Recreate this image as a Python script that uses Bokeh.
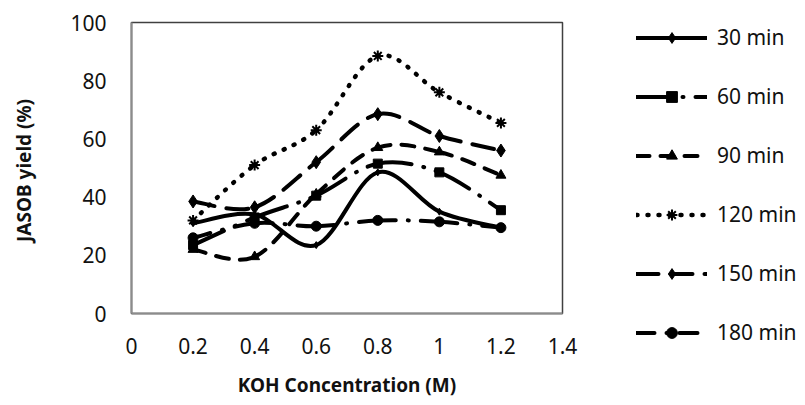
import numpy as np
from bokeh.plotting import figure
from bokeh.layouts import row, column
from bokeh.models import ColumnDataSource, Legend, LegendItem, FixedTicker, Range1d
from bokeh.embed import file_html
from bokeh.resources import INLINE

# ---- data ----
koh = [0.2, 0.4, 0.6, 0.8, 1.0, 1.2]
y30 = [31, 34, 23.5, 48.5, 35, 29.5]
y60 = [23.5, 33, 40.5, 51.5, 48.5, 35.5]
y90 = [22, 19.5, 41, 57, 55.5, 47.5]
y120 = [32, 51, 63, 88.5, 76, 65.5]
y150 = [38.5, 36.5, 52, 68.5, 61, 56]
y180 = [26, 31, 30, 32, 31.5, 29.5]
series_names = ["30 min", "60 min", "90 min", "120 min", "150 min", "180 min"]
x_ticks = [0, 0.2, 0.4, 0.6, 0.8, 1.0, 1.2, 1.4]
x_tick_labels = ["0", "0.2", "0.4", "0.6", "0.8", "1", "1.2", "1.4"]
y_ticks = [0, 20, 40, 60, 80, 100]

FONT = "Noto Sans"

p = figure(width=600, height=405, output_backend="svg", toolbar_location=None,
           x_range=Range1d(0, 1.4), y_range=Range1d(0, 100),
           min_border_left=131, min_border_right=38, min_border_top=22, min_border_bottom=92)
p.xgrid.visible = False
p.ygrid.visible = False
p.outline_line_color = "#404040"
p.outline_line_width = 1.5

for ax in (p.xaxis, p.yaxis):
    ax.axis_line_color = "#8c8c8c"
    ax.axis_line_width = 2
    ax.major_tick_line_color = None
    ax.minor_tick_line_color = None
    ax.major_label_text_font = FONT
    ax.major_label_text_font_size = "21px"
    ax.major_label_text_color = "#111111"
    ax.major_label_text_line_height = 1.0
    ax.axis_label_text_font = FONT
    ax.axis_label_text_font_style = "bold"
    ax.axis_label_text_font_size = "19px"
    ax.axis_label_text_color = "#111111"
    ax.axis_label_text_line_height = 1.0

p.xaxis.ticker = FixedTicker(ticks=x_ticks)
p.xaxis.major_label_overrides = {t: l for t, l in zip(x_ticks, x_tick_labels)}
p.xaxis.major_label_standoff = 18
p.xaxis.axis_label = "KOH Concentration (M)"
p.xaxis.axis_label_standoff = 15
p.yaxis.ticker = FixedTicker(ticks=y_ticks)
p.yaxis.major_label_standoff = 19
p.yaxis.axis_label = "JASOB  yield (%)"
p.yaxis.axis_label_standoff = 30


def smooth_source(xs, ys, t=1/6.):
    xs = np.asarray(xs, float)
    ys = np.asarray(ys, float)
    n = len(xs)
    x0, y0, x1, y1, cx0, cy0, cx1, cy1 = ([] for _ in range(8))
    for i in range(n - 1):
        im = max(i - 1, 0)
        ip2 = min(i + 2, n - 1)
        x0.append(xs[i]); y0.append(ys[i])
        x1.append(xs[i + 1]); y1.append(ys[i + 1])
        cx0.append(xs[i] + (xs[i + 1] - xs[im]) * t)
        cy0.append(ys[i] + (ys[i + 1] - ys[im]) * t)
        cx1.append(xs[i + 1] - (xs[ip2] - xs[i]) * t)
        cy1.append(ys[i + 1] - (ys[ip2] - ys[i]) * t)
    return ColumnDataSource(dict(x0=x0, y0=y0, x1=x1, y1=y1,
                                 cx0=cx0, cy0=cy0, cx1=cx1, cy1=cy1))


styles = [
    dict(ys=y30, dash="solid", width=4, marker="diamond", size=7),
    dict(ys=y60, dash="34 12 1 12", width=4, marker="square", size=9),
    dict(ys=y90, dash="13 11", width=4, marker="triangle", size=10),
    dict(ys=y120, dash="1 10", width=4.5, marker="asterisk", size=11),
    dict(ys=y150, dash="22 12", width=4, marker="diamond", size=13),
    dict(ys=y180, dash="18 12 1 12", width=4, marker="circle", size=10),
]

# legend panel (separate figure, no axes)
lg = figure(width=205, height=405, output_backend="svg", toolbar_location=None,
            x_range=Range1d(0, 1), y_range=Range1d(0, 1),
            min_border_left=36, min_border_right=0, min_border_top=23, min_border_bottom=0)
lg.axis.visible = False
lg.grid.visible = False
lg.outline_line_color = None

items = []
for name, st in zip(series_names, styles):
    src = smooth_source(koh, st["ys"])
    p.bezier(x0="x0", y0="y0", x1="x1", y1="y1", cx0="cx0", cy0="cy0",
             cx1="cx1", cy1="cy1", source=src, line_color="black",
             line_width=st["width"], line_dash=st["dash"], line_cap="round")
    lw = 2 if st["marker"] == "asterisk" else 1
    p.scatter(koh, st["ys"], marker=st["marker"], size=st["size"],
              fill_color="black", line_color="black", line_width=lw)
    ln = lg.line(x=[5, 6], y=[5, 6], line_color="black", line_width=st["width"],
                 line_dash=st["dash"], line_cap="round")
    mk = lg.scatter(x=[5], y=[5], marker=st["marker"], size=st["size"],
                    fill_color="black", line_color="black", line_width=lw)
    items.append(LegendItem(label=name, renderers=[ln, mk]))

legend = Legend(items=items, location="top_left", orientation="vertical",
                glyph_width=71, glyph_height=27, label_height=27, spacing=31,
                padding=0, margin=0, label_standoff=10,
                label_text_font=FONT, label_text_font_size="21px",
                label_text_color="#111111", border_line_color=None,
                background_fill_alpha=0)
lg.add_layout(legend, "center")

layout = row(p, column(lg))
open("out.html", "w").write(file_html(layout, INLINE))
